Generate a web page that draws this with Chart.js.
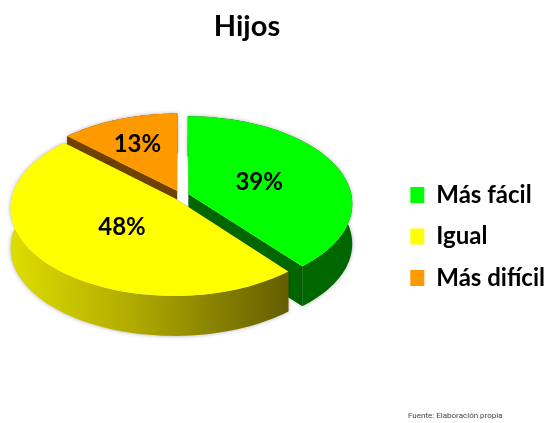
<!DOCTYPE html>
<html>
<head>
<meta charset="utf-8">
<title>Hijos</title>
<script src="https://cdn.jsdelivr.net/npm/chart.js@4"></script>
<style>
  body { margin: 0; background: #fff; }
  canvas { display: block; }
</style>
</head>
<body>
<canvas id="hijos-chart" width="545" height="423"></canvas>
<script>
const chartTitle = "Hijos";
const sourceNote = "Fuente: Elaboración propia";
const categories = ["Más fácil", "Igual", "Más difícil"];
const percents = [39, 48, 13];
const sliceColors = ["#00ff00", "#ffff00", "#ff9900"];
const wallColors = ["#006600", "#6b6400", "#6e4200"];

// fake 3D: the flat pie plane goes through a small perspective
const tilt = 0.53;
const perspective = 0.107;
const depth = 40;
const pieCenterX = 181;
const pieCenterY = 195.5;
const labelRadius = [0.47, 0.43, 0.66];

const pie3d = {
    id: "pie3d",
    beforeDatasetsDraw(chart) {
        const ctx = chart.ctx;
        const arcs = chart.getDatasetMeta(0).data;

        // back slice first, yellow goes last because it is in front
        [2, 0, 1].forEach(i => {
            const arc = arcs[i];
            const p = arc.getProps(["startAngle", "endAngle", "outerRadius"], true);
            const R = p.outerRadius;
            const mid = (p.startAngle + p.endAngle) / 2;
            const push = arc.options.offset / 4;
            const ox = Math.cos(mid) * push;
            const oy = Math.sin(mid) * push;

            const project = (angle, r) => {
                const X = Math.cos(angle) * r + ox;
                const Y = Math.sin(angle) * r + oy;
                const d = 1 - perspective * Y / R;
                return { x: pieCenterX + X / d, y: pieCenterY + tilt * Y / d };
            };

            const rimPts = [];
            for (let s = 0; s <= 80; s++) {
                rimPts.push(project(p.startAngle + (p.endAngle - p.startAngle) * s / 80, R));
            }
            const apex = project(0, 0);
            const first = rimPts[0];
            const last = rimPts[rimPts.length - 1];

            // cut faces
            ctx.fillStyle = wallColors[i];
            [first, last].forEach(tip => {
                ctx.beginPath();
                ctx.moveTo(apex.x, apex.y);
                ctx.lineTo(tip.x, tip.y);
                ctx.lineTo(tip.x, tip.y + depth);
                ctx.lineTo(apex.x, apex.y + depth);
                ctx.closePath();
                ctx.fill();
            });

            // outer wall
            let rimFill = wallColors[i];
            if (i === 1) {
                rimFill = ctx.createLinearGradient(10, 0, 285, 0);
                rimFill.addColorStop(0, "#dede00");
                rimFill.addColorStop(0.45, "#b0aa00");
                rimFill.addColorStop(1, "#665f00");
            }
            ctx.save();
            ctx.shadowColor = "rgba(0,0,0,0.3)";
            ctx.shadowBlur = 4;
            ctx.fillStyle = rimFill;
            ctx.beginPath();
            rimPts.forEach((pt, n) => n ? ctx.lineTo(pt.x, pt.y) : ctx.moveTo(pt.x, pt.y));
            for (let n = rimPts.length - 1; n >= 0; n--) {
                ctx.lineTo(rimPts[n].x, rimPts[n].y + depth);
            }
            ctx.closePath();
            ctx.fill();
            ctx.restore();

            // top face
            ctx.fillStyle = arc.options.backgroundColor;
            ctx.beginPath();
            ctx.moveTo(apex.x, apex.y);
            rimPts.forEach(pt => ctx.lineTo(pt.x, pt.y));
            ctx.closePath();
            ctx.fill();
        });

        // percent labels on top of everything
        ctx.fillStyle = "#000";
        ctx.font = "bold 24px Lato";
        ctx.textAlign = "center";
        ctx.textBaseline = "middle";
        arcs.forEach((arc, i) => {
            const p = arc.getProps(["startAngle", "endAngle", "outerRadius"], true);
            const mid = (p.startAngle + p.endAngle) / 2;
            const r = p.outerRadius * labelRadius[i] + arc.options.offset / 4;
            const Y = Math.sin(mid) * r;
            const d = 1 - perspective * Y / p.outerRadius;
            ctx.fillText(percents[i] + "%",
                pieCenterX + Math.cos(mid) * r / d,
                pieCenterY + 2 + tilt * Y / d);
        });
        return false;
    },
    afterDraw(chart) {
        const ctx = chart.ctx;
        ctx.fillStyle = "#000";
        ctx.font = "bold 29px Lato";
        ctx.textAlign = "center";
        ctx.textBaseline = "middle";
        ctx.fillText(chartTitle, 247, 27);

        ctx.fillStyle = "#444";
        ctx.font = "8px Roboto";
        ctx.textAlign = "left";
        ctx.fillText(sourceNote, 408, 416);
    }
};

new Chart(document.getElementById("hijos-chart"), {
    type: "pie",
    data: {
        labels: categories,
        datasets: [{
            data: percents,
            backgroundColor: sliceColors,
            borderWidth: 0,
            offset: [32, 32, 40],
            radius: 163
        }]
    },
    options: {
        responsive: false,
        animation: false,
        layout: { padding: { top: 50, right: -10 } },
        plugins: {
            tooltip: { enabled: false },
            legend: {
                position: "right",
                labels: {
                    color: "#000",
                    boxWidth: 14,
                    boxHeight: 16,
                    padding: 17.5,
                    font: { family: "Lato", size: 24, weight: "bold" }
                }
            }
        }
    },
    plugins: [pie3d]
});
</script>
</body>
</html>
